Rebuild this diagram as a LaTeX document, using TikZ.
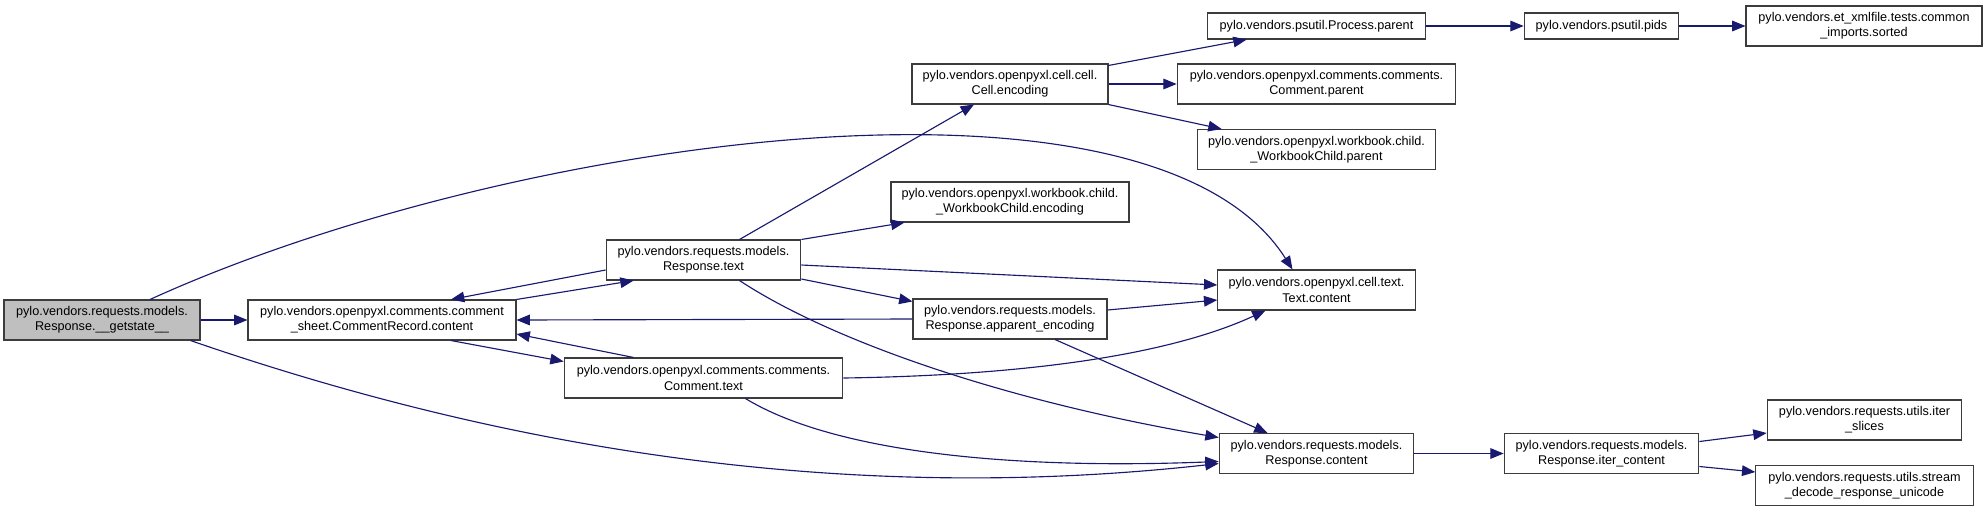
\documentclass[tikz,border=0pt]{standalone}
\usepackage{fontspec}
\setmainfont{Liberation Sans}
\usepackage{xcolor}
\usetikzlibrary{arrows.meta,calc}
\definecolor{edgeblue}{RGB}{25,25,112}
\definecolor{rootgray}{RGB}{191,191,191}
\definecolor{boxline}{RGB}{60,60,60}

\begin{document}
\begin{tikzpicture}[x=7.5pt, y=-7.5pt,
    box/.style={draw=boxline, line width=0.8pt, fill=white, align=center,
                minimum height=30pt, inner sep=0pt, font=\fontsize{9.5}{11.4}\selectfont},
    single/.style={box, minimum height=19.5pt},
    root/.style={box, fill=rootgray},
    arrow/.style={-{Triangle[length=10pt,width=8pt]}, line width=0.85pt, color=edgeblue},
]
    \useasboundingbox (0,0) rectangle (198.8,51.2);

    \node[root, minimum width=147pt] (getst) at (10.2,32.0) {pylo.vendors.requests.models.\\Response.\_\_getstate\_\_};
    \node[box, minimum width=201pt] (crec) at (38.2,32.0) {pylo.vendors.openpyxl.comments.comment\\\_sheet.CommentRecord.content};
    \node[box, minimum width=146pt] (rtext) at (70.35,26.0) {pylo.vendors.requests.models.\\Response.text};
    \node[box, minimum width=209pt] (ctext) at (70.35,37.8) {pylo.vendors.openpyxl.comments.comments.\\Comment.text};
    \node[box, minimum width=147pt] (cellenc) at (101.0,8.4) {pylo.vendors.openpyxl.cell.cell.\\Cell.encoding};
    \node[box, minimum width=178.5pt] (wbenc) at (101.0,20.2) {pylo.vendors.openpyxl.workbook.child.\\\_WorkbookChild.encoding};
    \node[box, minimum width=145.5pt] (appenc) at (101.0,31.9) {pylo.vendors.requests.models.\\Response.apparent\_encoding};
    \node[single, minimum width=164pt] (procpar) at (131.65,2.6) {pylo.vendors.psutil.Process.parent};
    \node[box, minimum width=209pt] (cpar) at (131.65,8.4) {pylo.vendors.openpyxl.comments.comments.\\Comment.parent};
    \node[box, minimum width=179pt] (wbpar) at (131.65,14.95) {pylo.vendors.openpyxl.workbook.child.\\\_WorkbookChild.parent};
    \node[box, minimum width=148pt] (tcont) at (131.65,29.0) {pylo.vendors.openpyxl.cell.text.\\Text.content};
    \node[box, minimum width=146pt] (rcont) at (131.65,45.35) {pylo.vendors.requests.models.\\Response.content};
    \node[single, minimum width=116pt] (pids) at (160.15,2.6) {pylo.vendors.psutil.pids};
    \node[box, minimum width=177pt] (sorted) at (186.4,2.6) {pylo.vendors.et\_xmlfile.tests.common\\\_imports.sorted};
    \node[box, minimum width=146pt] (itercont) at (160.15,45.35) {pylo.vendors.requests.models.\\Response.iter\_content};
    \node[box, minimum width=146pt] (slices) at (186.45,42.0) {pylo.vendors.requests.utils.iter\\\_slices};
    \node[box, minimum width=163pt] (decode) at (186.45,48.55) {pylo.vendors.requests.utils.stream\\\_decode\_response\_unicode};

    % calls from __getstate__
    \draw[arrow] (getst) -- (crec);
    \draw[arrow] ($(getst.north)+(4.8,0)$) .. controls (50,14) and (115,4.5) .. ($(tcont.north)+(-2.4,0)$);
    \draw[arrow] ($(getst.south east)+(-1,0)$) .. controls (45,43) and (80,51) .. ($(rcont.west)+(0,1.0)$);

    % CommentRecord.content and its callers
    \draw[arrow] (crec.north east) -- ($(rtext.south west)+(2.8,0)$);
    \draw[arrow] ($(rtext.west)+(0,1.0)$) -- ($(crec.north)+(6.9,0)$);
    \draw[arrow] ($(crec.south)+(6.9,0)$) -- ($(ctext.north west)+(0,0.4)$);
    \draw[arrow] ($(ctext.north)+(-7,0)$) -- ($(crec.east)+(0,1.4)$);
    \draw[arrow] (appenc.west) -- (crec.east);

    % Response.text
    \draw[arrow] ($(rtext.north)+(3.6,0)$) -- ($(cellenc.south)+(-3.6,0)$);
    \draw[arrow] (rtext.north east) -- ($(wbenc.south west)+(1.4,0)$);
    \draw[arrow] ($(rtext.east)+(0,0.5)$) -- ($(tcont.west)+(0,-0.5)$);
    \draw[arrow] ($(rtext.east)+(0,1.9)$) -- ($(appenc.north west)+(0,0.3)$);
    \draw[arrow] ($(rtext.south)+(3.6,0)$) .. controls (83,34) and (100,40) .. ($(rcont.west)+(0,-1.6)$);

    % apparent_encoding and Comment.text
    \draw[arrow] ($(appenc.east)+(0,-0.9)$) -- ($(tcont.west)+(0,1.0)$);
    \draw[arrow] ($(appenc.south)+(4.5,0)$) -- ($(rcont.north)+(-4.9,0)$);
    \draw[arrow] (ctext.east) .. controls (105,37.5) and (118,35) .. ($(tcont.south)+(-5.1,0)$);
    \draw[arrow] ($(ctext.south)+(4.2,0)$) .. controls (83,45) and (100,47) .. ($(rcont.west)+(0,0.8)$);

    % Cell.encoding
    \draw[arrow] ($(cellenc.north east)+(0,0.2)$) -- ($(procpar.south west)+(4,0)$);
    \draw[arrow] (cellenc.east) -- (cpar.west);
    \draw[arrow] (cellenc.south east) -- ($(wbpar.north west)+(2.5,0)$);
    \draw[arrow] (procpar) -- (pids);
    \draw[arrow] (pids) -- (sorted);

    % Response.content
    \draw[arrow] (rcont) -- (itercont);
    \draw[arrow] ($(itercont.east)+(0,-1.2)$) -- ($(slices.west)+(0,1.3)$);
    \draw[arrow] ($(itercont.east)+(0,1.3)$) -- ($(decode.west)+(0,-1.35)$);
\end{tikzpicture}
\end{document}
